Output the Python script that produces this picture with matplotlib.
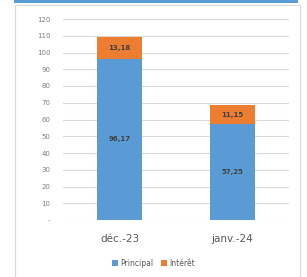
import matplotlib.pyplot as plt
import numpy as np
from matplotlib.patches import Rectangle

categories = ['déc.-23', 'janv.-24']
principal = [96.17, 57.25]
interet = [13.18, 11.15]
yticks = [0, 10, 20, 30, 40, 50, 60, 70, 80, 90, 100, 110, 120]
ytick_labels = ['-', '10', '20', '30', '40', '50', '60', '70', '80', '90', '100', '110', '120']

def fmt(v):
	return ('%.2f' % v).replace('.', ',')

W, H = 307, 277
fig = plt.figure(figsize=(W / 100, H / 100), dpi=100)
fig.patch.set_facecolor('white')

# blue strip on top and grey frame
fig.add_artist(Rectangle((14 / W, 1 - 2.5 / H), 284 / W, 2.5 / H, transform=fig.transFigure,
	facecolor='#5b9bd5', edgecolor='none'))
fig.add_artist(Rectangle((14.5 / W, -0.1), 285.5 / W, 1 - 5 / H + 0.1, transform=fig.transFigure,
	facecolor='none', edgecolor='#d9d9d9', linewidth=0.8))

ax = fig.add_axes([63 / W, 1 - 220 / H, 226 / W, 201 / H])
x = np.arange(len(categories))
b1 = ax.bar(x, principal, width=0.4, color='#5b9bd5', label='Principal', zorder=3)
b2 = ax.bar(x, interet, width=0.4, bottom=principal, color='#ed7d31', label='Intérêt', zorder=3)

for i in range(len(categories)):
	ax.text(x[i], principal[i] / 2, fmt(principal[i]), ha='center', va='center',
		fontsize=5, fontweight='bold', color='#404040', zorder=4)
	ax.text(x[i], principal[i] + interet[i] / 2, fmt(interet[i]), ha='center', va='center',
		fontsize=5, fontweight='bold', color='#404040', zorder=4)

ax.set_xlim(-0.5, 1.5)
ax.set_ylim(0, 120)
ax.set_yticks(yticks)
ax.set_yticklabels(ytick_labels, fontsize=5, color='#7f7f7f')
ax.set_xticks(x)
ax.set_xticklabels(categories, fontsize=7.5, color='#595959')
ax.tick_params(axis='y', length=0, pad=9)
ax.tick_params(axis='x', length=0, pad=10)
ax.grid(axis='y', color='#d9d9d9', linewidth=0.8, zorder=0)
for s in ax.spines.values():
	s.set_visible(False)

fig.legend(handles=[b1, b2], loc='center', bbox_to_anchor=(0.5, 1 - 263 / H), ncol=2,
	frameon=False, fontsize=5.5, handlelength=0.8, handleheight=0.8, handletextpad=0.3,
	columnspacing=1.0, labelcolor='#595959')

fig.savefig('out.png', dpi=100)
